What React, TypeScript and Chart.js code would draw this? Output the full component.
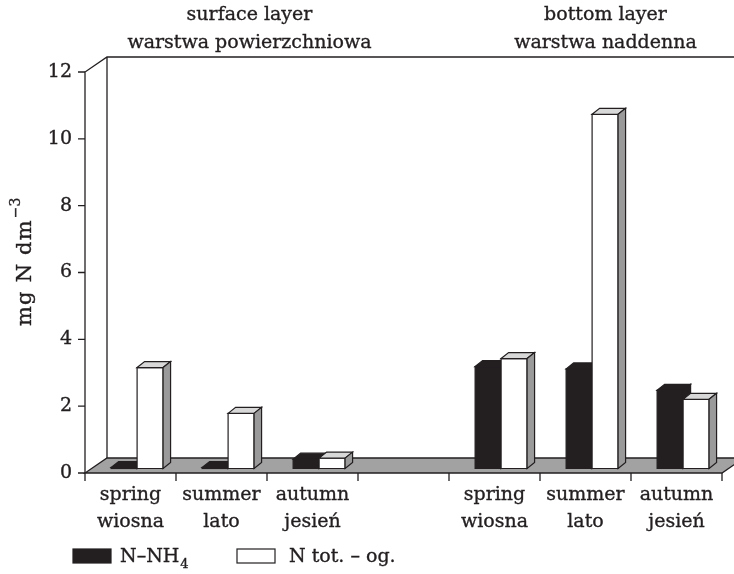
import React, { useEffect, useRef } from 'react';
import { Chart, registerables } from 'chart.js';

Chart.register(...registerables);

// ---------- data ----------
const CATEGORIES: (string | string[])[] = [
  ['spring', 'wiosna'],
  ['summer', 'lato'],
  ['autumn', 'jesień'],
  '',
  ['spring', 'wiosna'],
  ['summer', 'lato'],
  ['autumn', 'jesień'],
];
const NH4_VALUES: (number | null)[] = [0.03, 0.03, 0.28, null, 3.05, 2.98, 2.34];
const NTOT_VALUES: (number | null)[] = [3.02, 1.65, 0.31, null, 3.29, 10.6, 2.07];
const SERIES_NAMES = ['N–NH', 'N tot. – og.'];
const SERIES_SUB = ['4', ''];
const Y_TICKS = [0, 2, 4, 6, 8, 10, 12];
const GROUP_TITLES = [
  ['surface layer', 'warstwa powierzchniowa'],
  ['bottom layer', 'warstwa naddenna'],
];
const GROUP_CENTER_INDEX = [1, 5];
const Y_TITLE = 'mg N dm';
const Y_TITLE_SUP = '−3';

// ---------- style ----------
const FONT = '"DejaVu Serif", serif';
const INK = '#231f20';
const FLOOR = '#a2a2a2';
const WALL_DX = 22;
const WALL_DY = -15;
const BAR_FX = 6.6;
const BAR_FY = -4.5;
const BAR_DX = 7.5;
const BAR_DY = -6;
const GROUP_TITLE_SHIFT = [28, 20];
const TEXT_STROKE = 0.35;

const COLORS = [
  { front: INK, top: INK, side: INK },
  { front: '#ffffff', top: '#d8d8d8', side: '#9a9a9a' },
];

function poly(ctx: CanvasRenderingContext2D, pts: number[][], fill: string) {
  ctx.beginPath();
  ctx.moveTo(pts[0][0], pts[0][1]);
  for (let i = 1; i < pts.length; i++) ctx.lineTo(pts[i][0], pts[i][1]);
  ctx.closePath();
  ctx.fillStyle = fill;
  ctx.fill();
  ctx.stroke();
}

function text(ctx: CanvasRenderingContext2D, s: string, x: number, y: number) {
  ctx.fillText(s, x, y);
  ctx.strokeText(s, x, y);
}

const threeD = {
  id: 'threeD',
  beforeDatasetsDraw(chart: any) {
    const ctx: CanvasRenderingContext2D = chart.ctx;
    const xs = chart.scales.x;
    const ys = chart.scales.y;
    const x0 = xs.left;
    const x1 = xs.right;
    const y0 = ys.getPixelForValue(0);
    const yT = ys.getPixelForValue(12);
    ctx.save();
    ctx.strokeStyle = INK;
    ctx.lineWidth = 1.3;
    ctx.lineJoin = 'miter';
    ctx.beginPath();
    ctx.moveTo(x0, y0);
    ctx.lineTo(x0, yT);
    ctx.lineTo(x0 + WALL_DX, yT + WALL_DY);
    ctx.lineTo(x1 + WALL_DX, yT + WALL_DY);
    ctx.moveTo(x0 + WALL_DX, yT + WALL_DY);
    ctx.lineTo(x0 + WALL_DX, y0 + WALL_DY);
    ctx.stroke();
    poly(
      ctx,
      [
        [x0, y0],
        [x1, y0],
        [x1 + WALL_DX, y0 + WALL_DY],
        [x0 + WALL_DX, y0 + WALL_DY],
      ],
      FLOOR
    );
    ctx.beginPath();
    Y_TICKS.forEach((v) => {
      const y = ys.getPixelForValue(v);
      ctx.moveTo(x0 - 7, y);
      ctx.lineTo(x0, y);
    });
    const n = CATEGORIES.length;
    for (let i = 0; i <= n; i++) {
      const x = x0 + ((x1 - x0) * i) / n;
      ctx.moveTo(x, y0);
      ctx.lineTo(x, y0 + 8);
    }
    ctx.stroke();
    ctx.restore();
  },
  afterDatasetsDraw(chart: any) {
    const ctx: CanvasRenderingContext2D = chart.ctx;
    const ys = chart.scales.y;
    const base = ys.getPixelForValue(0) + BAR_FY;
    ctx.save();
    ctx.strokeStyle = INK;
    ctx.lineWidth = 1.2;
    ctx.lineJoin = 'miter';
    const n = CATEGORIES.length;
    for (let i = 0; i < n; i++) {
      chart.data.datasets.forEach((ds: any, d: number) => {
        const v = ds.data[i];
        if (v == null) return;
        const el = chart.getDatasetMeta(d).data[i];
        const half = el.width / 2;
        const xl = el.x - half + BAR_FX;
        const xr = el.x + half + BAR_FX;
        const yt = ys.getPixelForValue(v) + BAR_FY;
        const c = COLORS[d];
        poly(ctx, [[xl, yt], [xr, yt], [xr, base], [xl, base]], c.front);
        poly(ctx, [[xl, yt], [xl + BAR_DX, yt + BAR_DY], [xr + BAR_DX, yt + BAR_DY], [xr, yt]], c.top);
        poly(ctx, [[xr, yt], [xr + BAR_DX, yt + BAR_DY], [xr + BAR_DX, base + BAR_DY], [xr, base]], c.side);
      });
    }
    ctx.restore();
  },
  afterDraw(chart: any) {
    const ctx: CanvasRenderingContext2D = chart.ctx;
    const xs = chart.scales.x;
    ctx.save();
    ctx.fillStyle = INK;
    ctx.strokeStyle = INK;
    ctx.lineWidth = TEXT_STROKE;
    ctx.textBaseline = 'alphabetic';
    ctx.font = `19px ${FONT}`;
    ctx.textAlign = 'center';
    GROUP_TITLES.forEach((lines, g) => {
      const cx = xs.getPixelForValue(GROUP_CENTER_INDEX[g]) + GROUP_TITLE_SHIFT[g];
      text(ctx, lines[0], cx, 20);
      text(ctx, lines[1], cx, 48);
    });
    // y title
    ctx.save();
    ctx.translate(31, 326);
    ctx.rotate(-Math.PI / 2);
    ctx.textAlign = 'left';
    ctx.font = `21px ${FONT}`;
    (ctx as any).letterSpacing = '1.2px';
    text(ctx, Y_TITLE, 0, 0);
    const w = ctx.measureText(Y_TITLE).width;
    (ctx as any).letterSpacing = '0px';
    ctx.font = `14px ${FONT}`;
    text(ctx, Y_TITLE_SUP, w + 1, -11);
    ctx.restore();
    // legend
    ctx.textAlign = 'left';
    const boxes = [
      { x: 73, tx: 120 },
      { x: 237, tx: 289 },
    ];
    const ly = 549;
    SERIES_NAMES.forEach((name, d) => {
      const b = boxes[d];
      ctx.lineWidth = 1.2;
      ctx.fillStyle = COLORS[d].front;
      ctx.fillRect(b.x, ly, 38, 14);
      ctx.strokeRect(b.x, ly, 38, 14);
      ctx.fillStyle = INK;
      ctx.lineWidth = TEXT_STROKE;
      ctx.font = `19px ${FONT}`;
      text(ctx, name, b.tx, ly + 13);
      if (SERIES_SUB[d]) {
        const tw = ctx.measureText(name).width;
        ctx.font = `13px ${FONT}`;
        text(ctx, SERIES_SUB[d], b.tx + tw + 1, ly + 19);
      }
    });
    ctx.restore();
  },
};

export default function App() {
  const ref = useRef<HTMLCanvasElement | null>(null);
  useEffect(() => {
    if (!ref.current) return;
    const chart = new Chart(ref.current, {
      type: 'bar',
      data: {
        labels: CATEGORIES as any,
        datasets: [
          { label: SERIES_NAMES[0], data: NH4_VALUES, backgroundColor: 'rgba(0,0,0,0)', borderWidth: 0 },
          { label: SERIES_NAMES[1], data: NTOT_VALUES, backgroundColor: 'rgba(0,0,0,0)', borderWidth: 0 },
        ],
      },
      options: {
        animation: false,
        responsive: false,
        layout: { padding: { top: 72, right: 12, left: 0, bottom: 0 } },
        datasets: { bar: { categoryPercentage: 0.571, barPercentage: 1 } } as any,
        plugins: {
          legend: { display: false },
          tooltip: { enabled: false },
        },
        scales: {
          x: {
            grid: { display: false, drawTicks: true, tickLength: 8 },
            border: { display: false },
            ticks: {
              font: { family: FONT, size: 19, lineHeight: 1.42 },
              color: INK,
              padding: 1,
              maxRotation: 0,
              autoSkip: false,
              textStrokeColor: INK,
              textStrokeWidth: TEXT_STROKE,
            } as any,
            afterFit: (s: any) => {
              s.height = 101;
            },
          },
          y: {
            min: 0,
            max: 12,
            grid: { display: false, drawTicks: true, tickLength: 8 },
            border: { display: false },
            ticks: {
              stepSize: 2,
              font: { family: FONT, size: 19 },
              color: INK,
              padding: 5,
              textStrokeColor: INK,
              textStrokeWidth: TEXT_STROKE,
            } as any,
            afterFit: (s: any) => {
              s.width = 85;
            },
          },
        },
      },
      plugins: [threeD],
    });
    return () => chart.destroy();
  }, []);
  return (
    <div style={{ position: 'fixed', left: 0, top: 0, width: 734, height: 574, background: '#fff' }}>
      <canvas ref={ref} width={734} height={574} />
    </div>
  );
}
